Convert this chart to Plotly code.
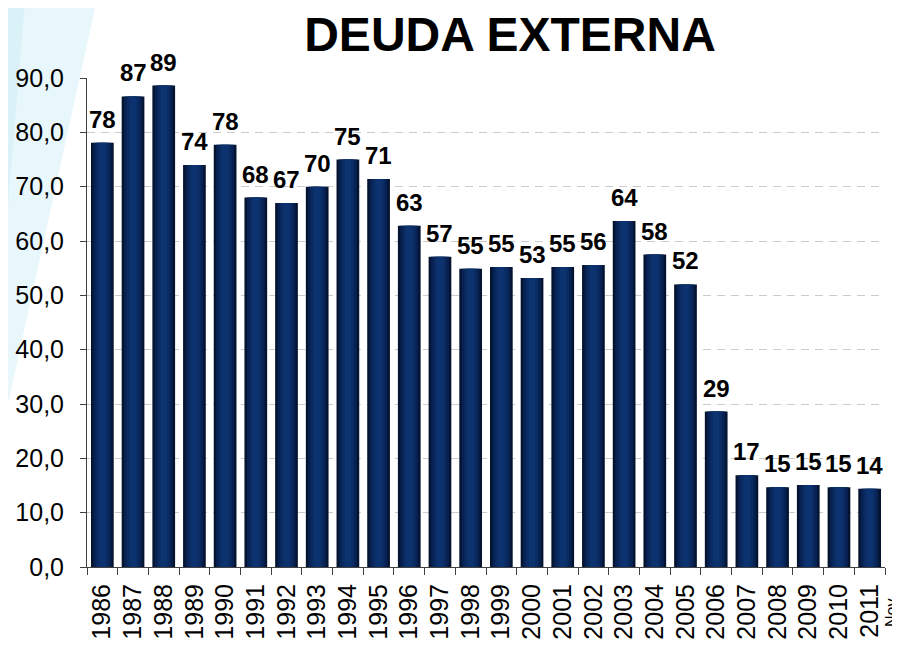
import plotly.graph_objects as go

years = ["1986", "1987", "1988", "1989", "1990", "1991", "1992", "1993", "1994",
         "1995", "1996", "1997", "1998", "1999", "2000", "2001", "2002", "2003",
         "2004", "2005", "2006", "2007", "2008", "2009", "2010", "2011"]
deuda = [78.1, 86.6, 88.6, 74.0, 77.7, 68.0, 67.0, 70.0, 75.0,
         71.4, 62.8, 57.1, 54.9, 55.2, 53.2, 55.2, 55.6, 63.7,
         57.5, 52.0, 28.6, 16.9, 14.7, 15.1, 14.7, 14.4]
labels = [str(int(round(v))) for v in deuda]
title_text = "DEUDA EXTERNA"
last_note = "Nov"

FONT = "Liberation Sans, Arial, sans-serif"

fig = go.Figure()
# layered bars imitate the horizontal shading of the original bars
for width, color in [(0.74, "#041430"), (0.58, "#072252"), (0.40, "#0a2c63"), (0.22, "#0c3270")]:
    fig.add_trace(go.Bar(x=years, y=deuda, width=width, marker=dict(color=color, line=dict(width=0)),
                         hoverinfo="skip", showlegend=False))

# page is offset by 8px; plot area sits at screen x 87..885, y 78..567
def px(xp):
    return (xp - 87) / 798.0

def py(yp):
    return (567 - yp) / 489.0

annotations = []
for i, (v, t) in enumerate(zip(deuda, labels)):
    annotations.append(dict(x=i, y=v, text=t, showarrow=False, xanchor="center", yanchor="bottom",
                            yshift=8, font=dict(family=FONT, size=24, color="#000000", weight="bold"),
                            xref="x", yref="y"))
annotations.append(dict(x=px(891), y=py(613), xref="paper", yref="paper", text=last_note,
                        showarrow=False, textangle=-90, xanchor="center",
                        yanchor="middle", font=dict(family=FONT, size=16, color="#000000")))

shapes = [
    dict(type="path", xref="paper", yref="paper", layer="below", line=dict(width=0),
         fillcolor="#e8f7fb",
         path=f"M {px(0)},{py(-10)} L {px(99)},{py(-10)} L {px(0)},{py(440)} Z"),
    dict(type="path", xref="paper", yref="paper", layer="below", line=dict(width=0),
         fillcolor="#d9f1f7",
         path=f"M {px(0)},{py(-10)} L {px(26)},{py(-10)} L {px(0)},{py(300)} Z"),
]

fig.update_layout(
    width=900, height=648,
    margin=dict(l=79, r=23, t=70, b=89),
    paper_bgcolor="white", plot_bgcolor="rgba(0,0,0,0)",
    barmode="overlay",
    separators=",.",
    title=dict(text=title_text, x=502 / 900, xref="container", xanchor="center",
               y=1 - 26 / 648, yref="container", yanchor="middle",
               font=dict(family=FONT, size=48, color="#000000", weight="bold")),
    font=dict(family=FONT, color="#000000"),
    annotations=annotations,
    shapes=shapes,
    xaxis=dict(type="category", range=[-0.5, 25.5], tickmode="linear", dtick=1, tick0=0,
               showline=True, linecolor="#404040", automargin=False,
               linewidth=1, ticks="outside", ticklen=7, tickcolor="#404040",
               tickson="boundaries", tickangle=-90,
               tickfont=dict(family=FONT, size=25, color="#000000"),
               ticklabelstandoff=6, showgrid=False, fixedrange=True),
    yaxis=dict(range=[0, 90], dtick=10, tickformat=".1f", showline=True, linecolor="#404040",
               linewidth=1, ticks="outside", ticklen=6, tickcolor="#404040", automargin=False,
               tickfont=dict(family=FONT, size=25, color="#000000"), ticklabelstandoff=11,
               showgrid=True, gridcolor="#cccccc", gridwidth=1, griddash="8px,6px",
               zeroline=False),
)

fig.write_html("out.html")
